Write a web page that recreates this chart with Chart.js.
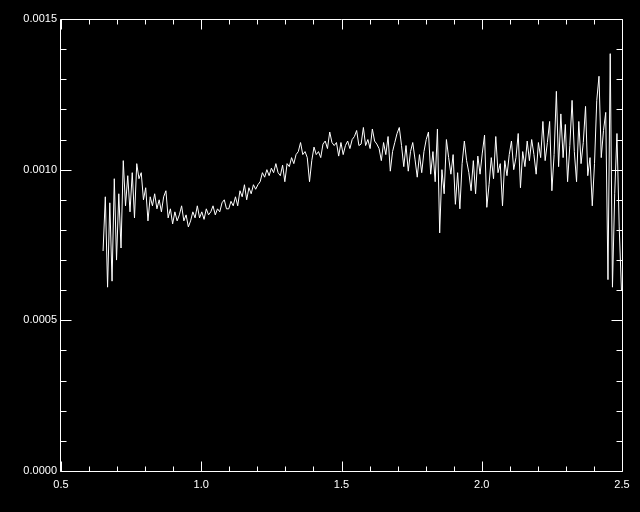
<!DOCTYPE html>
<html>
<head>
<meta charset="utf-8">
<script src="https://cdn.jsdelivr.net/npm/chart.js@4"></script>
<style>
  html, body { margin: 0; padding: 0; background: #000; }
  #wrap { width: 640px; height: 512px; }
</style>
</head>
<body>
<div id="wrap"><canvas id="spectrumChart" width="640" height="512"></canvas></div>
<script>
// wavelength grid (microns)
const wavelength = [
  0.650,0.658,0.666,0.674,0.682,0.690,0.698,0.706,0.714,0.722,
  0.730,0.738,0.746,0.754,0.762,0.770,0.778,0.786,0.794,0.802,
  0.810,0.818,0.826,0.834,0.842,0.850,0.858,0.866,0.874,0.882,
  0.890,0.898,0.906,0.914,0.922,0.930,0.938,0.946,0.954,0.962,
  0.970,0.978,0.986,0.994,1.002,1.010,1.018,1.026,1.034,1.042,
  1.050,1.058,1.066,1.074,1.082,1.090,1.098,1.106,1.114,1.122,
  1.130,1.138,1.146,1.154,1.162,1.170,1.178,1.186,1.194,1.202,
  1.210,1.218,1.226,1.234,1.242,1.250,1.258,1.266,1.274,1.282,
  1.290,1.298,1.306,1.314,1.322,1.330,1.338,1.346,1.354,1.362,
  1.370,1.378,1.386,1.394,1.402,1.410,1.418,1.426,1.434,1.442,
  1.450,1.458,1.466,1.474,1.482,1.490,1.498,1.506,1.514,1.522,
  1.530,1.538,1.546,1.554,1.562,1.570,1.578,1.586,1.594,1.602,
  1.610,1.618,1.626,1.634,1.642,1.650,1.658,1.666,1.674,1.682,
  1.690,1.698,1.706,1.714,1.722,1.730,1.738,1.746,1.754,1.762,
  1.770,1.778,1.786,1.794,1.802,1.810,1.818,1.826,1.834,1.842,
  1.850,1.858,1.866,1.874,1.882,1.890,1.898,1.906,1.914,1.922,
  1.930,1.938,1.946,1.954,1.962,1.970,1.978,1.986,1.994,2.002,
  2.010,2.018,2.026,2.034,2.042,2.050,2.058,2.066,2.074,2.082,
  2.090,2.098,2.106,2.114,2.122,2.130,2.138,2.146,2.154,2.162,
  2.170,2.178,2.186,2.194,2.202,2.210,2.218,2.226,2.234,2.242,
  2.250,2.258,2.266,2.274,2.282,2.290,2.298,2.306,2.314,2.322,
  2.330,2.338,2.346,2.354,2.362,2.370,2.378,2.386,2.394,2.402,
  2.410,2.418,2.426,2.434,2.442,2.450,2.458,2.466,2.474,2.482,
  2.490,2.498
];

// flux values, one per wavelength
const flux = [
  7.3e-4,9.1e-4,6.1e-4,8.9e-4,6.3e-4,9.7e-4,7.0e-4,9.2e-4,7.4e-4,10.3e-4,
  8.8e-4,9.8e-4,8.6e-4,9.9e-4,8.4e-4,10.2e-4,9.7e-4,9.9e-4,9.0e-4,9.4e-4,
  8.3e-4,9.1e-4,8.8e-4,9.2e-4,8.7e-4,9.0e-4,8.6e-4,9.1e-4,9.3e-4,8.4e-4,
  8.7e-4,8.2e-4,8.6e-4,8.3e-4,8.5e-4,8.8e-4,8.3e-4,8.5e-4,8.1e-4,8.3e-4,
  8.6e-4,8.4e-4,8.8e-4,8.4e-4,8.6e-4,8.35e-4,8.7e-4,8.5e-4,8.6e-4,8.8e-4,
  8.5e-4,8.7e-4,8.6e-4,8.9e-4,9.0e-4,8.7e-4,8.7e-4,8.95e-4,8.8e-4,9.1e-4,
  8.8e-4,9.3e-4,9.1e-4,9.5e-4,9.0e-4,9.4e-4,9.2e-4,9.5e-4,9.35e-4,9.5e-4,
  9.6e-4,9.9e-4,9.75e-4,10.0e-4,9.8e-4,10.05e-4,9.9e-4,10.2e-4,9.9e-4,9.8e-4,
  10.15e-4,9.6e-4,10.2e-4,10.1e-4,10.4e-4,10.2e-4,10.5e-4,10.6e-4,10.9e-4,10.5e-4,
  10.6e-4,10.4e-4,9.6e-4,10.3e-4,10.75e-4,10.5e-4,10.6e-4,10.4e-4,10.85e-4,10.95e-4,
  10.7e-4,11.25e-4,10.9e-4,10.8e-4,10.9e-4,10.45e-4,10.9e-4,10.5e-4,10.8e-4,10.95e-4,
  10.7e-4,11.0e-4,11.1e-4,11.3e-4,10.8e-4,10.85e-4,11.4e-4,10.8e-4,11.0e-4,10.7e-4,
  11.35e-4,10.95e-4,10.85e-4,10.7e-4,10.3e-4,10.9e-4,10.5e-4,11.1e-4,9.95e-4,10.6e-4,
  10.9e-4,11.2e-4,11.4e-4,10.8e-4,10.1e-4,10.8e-4,9.95e-4,10.6e-4,10.9e-4,10.35e-4,
  9.75e-4,10.5e-4,9.9e-4,10.6e-4,11.0e-4,11.25e-4,9.85e-4,10.6e-4,9.6e-4,11.35e-4,
  7.9e-4,10.0e-4,9.2e-4,11.0e-4,10.4e-4,9.85e-4,10.5e-4,8.85e-4,9.9e-4,8.7e-4,
  10.2e-4,10.95e-4,10.3e-4,9.9e-4,9.3e-4,10.3e-4,9.2e-4,10.45e-4,9.85e-4,10.55e-4,
  11.15e-4,8.75e-4,9.5e-4,10.4e-4,9.7e-4,11.1e-4,9.9e-4,10.2e-4,8.8e-4,10.3e-4,
  9.8e-4,10.5e-4,10.95e-4,10.0e-4,10.4e-4,11.2e-4,9.4e-4,10.6e-4,10.1e-4,10.95e-4,
  10.3e-4,11.0e-4,10.5e-4,9.85e-4,10.9e-4,10.4e-4,11.6e-4,10.3e-4,10.9e-4,11.6e-4,
  9.3e-4,10.5e-4,12.6e-4,10.1e-4,11.85e-4,10.4e-4,11.5e-4,9.6e-4,10.8e-4,12.3e-4,
  10.6e-4,9.6e-4,11.6e-4,10.2e-4,10.9e-4,12.1e-4,9.8e-4,10.4e-4,8.8e-4,10.2e-4,
  12.3e-4,13.1e-4,10.4e-4,11.3e-4,11.9e-4,6.35e-4,13.85e-4,6.1e-4,9.2e-4,11.2e-4,
  8.1e-4,6.0e-4
];

const xMajorTicks = [0.5, 1.0, 1.5, 2.0, 2.5];
const yMajorTicks = [0.0000, 0.0005, 0.0010, 0.0015];

// black page + IDL style box with inward ticks on all four sides
const frameTicks = {
  id: 'frameTicks',
  beforeDraw(chart) {
    const ctx = chart.ctx;
    ctx.save();
    ctx.fillStyle = '#000';
    ctx.fillRect(0, 0, chart.width, chart.height);
    ctx.restore();
  },
  afterDatasetsDraw(chart) {
    const { ctx, chartArea: a, scales } = chart;
    const xs = scales.x, ys = scales.y;
    const L = a.left - 0.5, R = a.right + 0.5, T = a.top + 0.5, B = a.bottom + 0.5;
    ctx.save();
    ctx.strokeStyle = '#fff';
    ctx.lineWidth = 1;
    ctx.beginPath();
    ctx.rect(L, T, R - L, B - T);

    // x ticks every 0.1, long at 0.5 steps
    for (let i = 0; i <= 20; i++) {
      const v = 0.5 + i * 0.1;
      const len = (i % 5 === 0) ? 10 : 5;
      const px = Math.round(xs.getPixelForValue(v)) + 0.5;
      ctx.moveTo(px, B); ctx.lineTo(px, B - len);
      ctx.moveTo(px, T); ctx.lineTo(px, T + len);
    }
    // y ticks every 0.0001, long at 0.0005 steps
    for (let i = 0; i <= 15; i++) {
      const v = i * 0.0001;
      const len = (i % 5 === 0) ? 11 : 6;
      const py = Math.round(ys.getPixelForValue(v)) + 0.5;
      ctx.moveTo(L, py); ctx.lineTo(L + len, py);
      ctx.moveTo(R, py); ctx.lineTo(R - len, py);
    }
    ctx.stroke();
    ctx.restore();
  }
};

Chart.defaults.font.family = 'Liberation Sans';
Chart.defaults.font.size = 11;
Chart.defaults.color = '#fff';

const points = wavelength.map((w, i) => ({ x: w, y: flux[i] }));

const ctx = document.getElementById('spectrumChart').getContext('2d');
const config = {
  type: 'line',
  data: {
    datasets: [{
      data: points,
      borderColor: '#fff',
      borderWidth: 1,
      pointRadius: 0,
      tension: 0,
      fill: false
    }]
  },
  options: {
    responsive: false,
    animation: false,
    layout: { padding: { top: 19, right: 18, left: 0, bottom: 0 } },
    plugins: { legend: { display: false }, tooltip: { enabled: false } },
    scales: {
      x: {
        type: 'linear',
        min: 0.5,
        max: 2.5,
        afterBuildTicks: (s) => { s.ticks = xMajorTicks.map(v => ({ value: v })); },
        afterFit: (s) => { s.height = 41; },
        ticks: { color: '#fff', padding: 7, maxRotation: 0, callback: (v) => Number(v).toFixed(1) },
        grid: { display: false, drawTicks: false },
        border: { display: false }
      },
      y: {
        min: 0,
        max: 0.0015,
        afterBuildTicks: (s) => { s.ticks = yMajorTicks.map(v => ({ value: v })); },
        afterFit: (s) => { s.width = 61; },
        ticks: { color: '#fff', padding: 4, callback: (v) => Number(v).toFixed(4) },
        grid: { display: false, drawTicks: false },
        border: { display: false }
      }
    }
  },
  plugins: [frameTicks]
};
const spectrumChart = new Chart(ctx, config);
</script>
</body>
</html>
